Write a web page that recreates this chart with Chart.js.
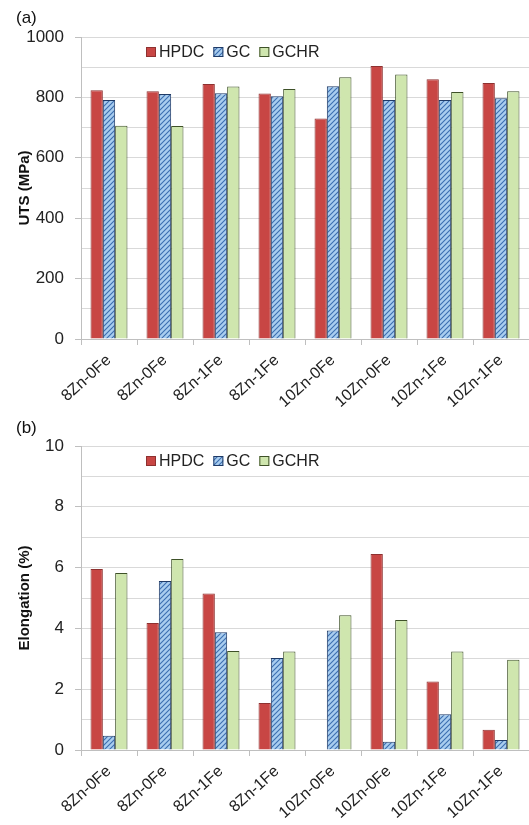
<!DOCTYPE html>
<html>
<head>
<meta charset="utf-8">
<script src="https://cdn.jsdelivr.net/npm/chart.js@4/dist/chart.umd.min.js"></script>
<style>
  body { margin: 0; background: #fff; width: 529px; height: 825px; position: relative; overflow: hidden; font-family: "Liberation Sans", Arial, sans-serif; }
  .wrap { position: absolute; left: 0; width: 529px; }
  #wa { top: 0; height: 414px; }
  #wb { top: 409px; height: 416px; }
  .tag { position: absolute; left: 16px; font-size: 17px; color: #111; z-index: 2; }
</style>
</head>
<body>
<div class="tag" style="top:8px">(a)</div>
<div class="tag" style="top:418px">(b)</div>
<div class="wrap" id="wa"><canvas id="uts"></canvas></div>
<div class="wrap" id="wb"><canvas id="elong"></canvas></div>
<script>
// data
const alloys = ['8Zn-0Fe', '8Zn-0Fe', '8Zn-1Fe', '8Zn-1Fe', '10Zn-0Fe', '10Zn-0Fe', '10Zn-1Fe', '10Zn-1Fe'];
const seriesNames = ['HPDC', 'GC', 'GCHR'];

const utsHPDC = [824, 820, 844, 813, 730, 904, 860, 848];
const utsGC   = [791, 811, 814, 804, 837, 791, 791, 797];
const utsGCHR = [706, 705, 836, 828, 867, 876, 818, 820];
const utsTicks = [0, 200, 400, 600, 800, 1000];

const elHPDC = [5.95, 4.18, 5.15, 1.55, null, 6.45, 2.25, 0.67];
const elGC   = [0.47, 5.56, 3.87, 3.03, 3.93, 0.27, 1.18, 0.33];
const elGCHR = [5.82, 6.28, 3.26, 3.24, 4.43, 4.28, 3.24, 2.97];
const elTicks = [0, 2, 4, 6, 8, 10];

// blue hatch for GC
function hatch(ctx) {
  const c = document.createElement('canvas');
  c.width = 5; c.height = 5;
  const g = c.getContext('2d');
  g.fillStyle = '#a9cdef';
  g.fillRect(0, 0, 5, 5);
  g.strokeStyle = '#3b6eb0';
  g.lineWidth = 1.1;
  g.beginPath();
  g.moveTo(-1, 6); g.lineTo(6, -1);
  g.moveTo(-1, 1); g.lineTo(1, -1);
  g.moveTo(4, 6); g.lineTo(6, 4);
  g.stroke();
  return ctx.createPattern(c, 'repeat');
}

// legend drawn inside the plot area
const innerLegend = {
  id: 'innerLegend',
  afterDraw(chart) {
    const ctx = chart.ctx;
    const area = chart.chartArea;
    let x = area.left + 65;
    const y = area.top + 15;
    ctx.save();
    ctx.font = '16px "Liberation Sans", Arial, sans-serif';
    ctx.textBaseline = 'middle';
    chart.data.datasets.forEach(ds => {
      ctx.fillStyle = ds.backgroundColor;
      ctx.fillRect(x, y - 5, 10, 10);
      ctx.strokeStyle = ds.borderColor;
      ctx.lineWidth = 1;
      ctx.strokeRect(x + 0.5, y - 4.5, 9, 9);
      x += 13;
      ctx.fillStyle = '#222';
      ctx.fillText(ds.label, x, y + 1);
      x += ctx.measureText(ds.label).width + 9;
    });
    ctx.restore();
  }
};

function makeChart(id, series, yMax, step, ticks, title) {
  const ctx = document.getElementById(id).getContext('2d');
  const fills = ['#c84644', hatch(ctx), '#cfe6ae'];
  const borders = ['#8e3130', '#1f3a66', '#3e5128'];
  return new Chart(ctx, {
    type: 'bar',
    data: {
      labels: alloys,
      datasets: series.map((vals, i) => ({
        label: seriesNames[i],
        data: vals,
        backgroundColor: fills[i],
        borderColor: borders[i],
        borderWidth: 1,
        categoryPercentage: 0.66,
        barPercentage: 1.0
      }))
    },
    options: {
      responsive: true,
      maintainAspectRatio: false,
      animation: false,
      layout: { padding: { top: 37, left: 0, right: 0, bottom: 0 } },
      plugins: { legend: { display: false }, tooltip: { enabled: false } },
      scales: {
        x: {
          grid: { drawOnChartArea: false, drawTicks: true, tickLength: 6, color: '#bfbfbf', offset: true },
          border: { color: '#bfbfbf' },
          ticks: {
            minRotation: 42, maxRotation: 42, padding: 6, color: '#222',
            font: { family: '"Liberation Sans", Arial, sans-serif', size: 16 }
          },
          afterFit(s) { s.height = 75; }
        },
        y: {
          min: 0,
          max: yMax,
          grid: {
            color: '#d9d9d9', tickLength: 6,
            tickColor: c => (ticks.includes(c.tick.value) ? '#bfbfbf' : 'rgba(0,0,0,0)')
          },
          border: { color: '#bfbfbf' },
          ticks: {
            stepSize: step, padding: 11, color: '#222',
            font: { family: '"Liberation Sans", Arial, sans-serif', size: 17 },
            callback: v => (ticks.includes(v) ? v : '')
          },
          title: {
            display: true, text: title, color: '#111',
            font: { family: '"Liberation Sans", Arial, sans-serif', size: 15, weight: 'bold' },
            padding: { top: 16, bottom: 0 }
          },
          afterFit(s) { s.width = 81; }
        }
      }
    },
    plugins: [innerLegend]
  });
}

makeChart('uts', [utsHPDC, utsGC, utsGCHR], 1000, 100, utsTicks, 'UTS (MPa)');
makeChart('elong', [elHPDC, elGC, elGCHR], 10, 1, elTicks, 'Elongation (%)');
</script>
</body>
</html>
